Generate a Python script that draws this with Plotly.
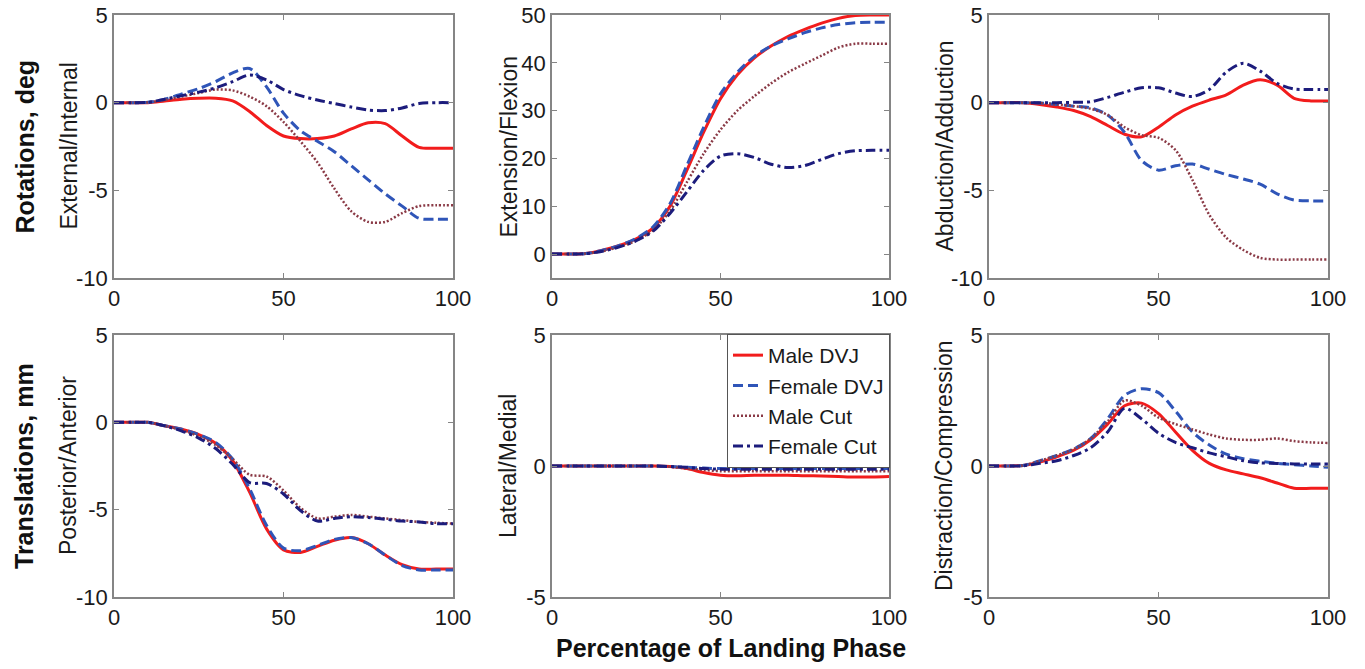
import plotly.graph_objects as go

x = [0, 5, 10, 15, 20, 25, 30, 35, 40, 45, 50, 55, 60, 65, 70, 75, 80, 85, 90, 95, 100]

series_names = ["Male DVJ", "Female DVJ", "Male Cut", "Female Cut"]

# Panel 1: External/Internal rotation (deg)
ext_int_male_dvj = [0, 0, 0, 0.1, 0.2, 0.25, 0.25, 0.1, -0.5, -1.3, -1.9, -2.05, -2.05, -1.9, -1.5, -1.15, -1.2, -1.9, -2.55, -2.6, -2.6]
ext_int_female_dvj = [0, 0, 0.02, 0.2, 0.5, 0.8, 1.2, 1.7, 1.95, 0.9, -0.6, -1.6, -2.2, -2.8, -3.6, -4.4, -5.2, -5.9, -6.6, -6.65, -6.65]
ext_int_male_cut = [0, 0, 0.02, 0.15, 0.35, 0.55, 0.75, 0.7, 0.35, -0.2, -1.1, -2.2, -3.4, -4.9, -6.2, -6.8, -6.8, -6.3, -5.9, -5.85, -5.85]
ext_int_female_cut = [0, 0, 0.02, 0.2, 0.4, 0.6, 0.85, 1.2, 1.58, 1.3, 0.75, 0.4, 0.15, -0.05, -0.25, -0.42, -0.45, -0.3, -0.05, 0, 0]

# Panel 2: Extension/Flexion (deg)
ext_flex_male_dvj = [0, 0, 0.1, 0.8, 1.8, 3.2, 5.5, 10, 17.5, 25.5, 32.5, 37.5, 41, 43.5, 45.5, 47, 48.3, 49.3, 49.9, 50, 50]
ext_flex_female_dvj = [0, 0, 0.1, 0.8, 1.8, 3.3, 5.7, 10.5, 18.5, 26.5, 33.5, 38, 41.3, 43.5, 45, 46.3, 47.3, 48, 48.4, 48.5, 48.5]
ext_flex_male_cut = [0, 0, 0.1, 0.6, 1.5, 2.8, 5, 9, 15, 21, 26, 30, 33, 35.7, 38, 39.8, 41.5, 43.2, 44, 44, 44]
ext_flex_female_cut = [0, 0, 0.1, 0.6, 1.5, 2.8, 4.8, 8.5, 13, 17.5, 20.5, 21, 20.2, 18.8, 18.1, 18.5, 19.8, 21, 21.6, 21.7, 21.7]

# Panel 3: Abduction/Adduction (deg)
abd_add_male_dvj = [0, 0, 0, -0.1, -0.25, -0.45, -0.8, -1.3, -1.8, -1.95, -1.4, -0.7, -0.2, 0.15, 0.45, 1.0, 1.3, 1.0, 0.25, 0.1, 0.1]
abd_add_female_dvj = [0, 0, 0, -0.02, -0.1, -0.2, -0.3, -0.7, -1.7, -3.3, -3.85, -3.6, -3.5, -3.8, -4.1, -4.35, -4.65, -5.2, -5.55, -5.6, -5.6]
abd_add_male_cut = [0, 0, 0, -0.02, -0.1, -0.2, -0.35, -0.7, -1.4, -1.85, -2.0, -2.7, -4.4, -6.4, -7.7, -8.4, -8.85, -8.95, -8.95, -8.95, -8.95]
abd_add_female_cut = [0, 0, 0, 0, 0, 0.02, 0.05, 0.3, 0.6, 0.85, 0.85, 0.55, 0.35, 0.75, 1.75, 2.25, 1.8, 1.1, 0.78, 0.75, 0.75]

# Panel 4: Posterior/Anterior translation (mm)
post_ant_male_dvj = [0, 0, 0, -0.2, -0.4, -0.7, -1.2, -2.2, -4.0, -6.1, -7.3, -7.45, -7.1, -6.75, -6.6, -6.95, -7.6, -8.15, -8.4, -8.4, -8.4]
post_ant_female_dvj = [0, 0, 0, -0.2, -0.4, -0.7, -1.15, -2.1, -3.8, -5.9, -7.2, -7.35, -7.05, -6.7, -6.6, -6.95, -7.6, -8.2, -8.45, -8.45, -8.45]
post_ant_male_cut = [0, 0, 0, -0.2, -0.45, -0.8, -1.3, -2.1, -3.0, -3.1, -3.9, -4.9, -5.5, -5.4, -5.3, -5.4, -5.5, -5.6, -5.7, -5.75, -5.8]
post_ant_female_cut = [0, 0, 0, -0.2, -0.5, -0.9, -1.5, -2.4, -3.45, -3.5, -4.1, -5.05, -5.65, -5.5, -5.4, -5.45, -5.55, -5.65, -5.7, -5.8, -5.8]

# Panel 5: Lateral/Medial translation (mm)
lat_med_male_dvj = [0, 0, 0, 0, 0, 0, 0, -0.02, -0.1, -0.25, -0.35, -0.37, -0.35, -0.35, -0.35, -0.37, -0.38, -0.4, -0.42, -0.42, -0.4]
lat_med_female_dvj = [0, 0, 0, 0, 0, 0, 0, -0.02, -0.05, -0.08, -0.1, -0.1, -0.1, -0.1, -0.1, -0.1, -0.1, -0.1, -0.1, -0.1, -0.1]
lat_med_male_cut = [0, 0, 0, 0, 0, 0, 0, -0.03, -0.1, -0.15, -0.2, -0.2, -0.2, -0.2, -0.2, -0.2, -0.2, -0.2, -0.2, -0.2, -0.2]
lat_med_female_cut = [0, 0, 0, 0, 0, 0, 0, -0.02, -0.05, -0.1, -0.12, -0.12, -0.12, -0.12, -0.12, -0.12, -0.12, -0.12, -0.12, -0.12, -0.12]

# Panel 6: Distraction/Compression translation (mm)
dis_com_male_dvj = [0, 0, 0.02, 0.15, 0.35, 0.6, 1.0, 1.6, 2.3, 2.4, 2.0, 1.3, 0.6, 0.1, -0.15, -0.3, -0.45, -0.65, -0.85, -0.85, -0.85]
dis_com_female_dvj = [0, 0, 0.02, 0.2, 0.4, 0.65, 1.05, 1.8, 2.7, 2.95, 2.8, 2.1, 1.3, 0.8, 0.45, 0.28, 0.18, 0.1, 0.05, 0, -0.05]
dis_com_male_cut = [0, 0, 0.02, 0.2, 0.4, 0.65, 1.05, 1.7, 2.5, 2.3, 1.85, 1.6, 1.4, 1.2, 1.05, 1.0, 1.0, 1.05, 0.95, 0.9, 0.88]
dis_com_female_cut = [0, 0, 0.01, 0.1, 0.2, 0.4, 0.7, 1.3, 2.2, 1.8, 1.25, 0.9, 0.7, 0.5, 0.35, 0.2, 0.12, 0.1, 0.08, 0.08, 0.08]

panel_titles = ["External/Internal", "Extension/Flexion", "Abduction/Adduction",
                "Posterior/Anterior", "Lateral/Medial", "Distraction/Compression"]
panel_data = [
    [ext_int_male_dvj, ext_int_female_dvj, ext_int_male_cut, ext_int_female_cut],
    [ext_flex_male_dvj, ext_flex_female_dvj, ext_flex_male_cut, ext_flex_female_cut],
    [abd_add_male_dvj, abd_add_female_dvj, abd_add_male_cut, abd_add_female_cut],
    [post_ant_male_dvj, post_ant_female_dvj, post_ant_male_cut, post_ant_female_cut],
    [lat_med_male_dvj, lat_med_female_dvj, lat_med_male_cut, lat_med_female_cut],
    [dis_com_male_dvj, dis_com_female_dvj, dis_com_male_cut, dis_com_female_cut],
]
y_ranges = [[-10, 5], [-5, 50], [-10, 5], [-10, 5], [-5, 5], [-5, 5]]
y_ticks = [[-10, -5, 0, 5], [0, 10, 20, 30, 40, 50], [-10, -5, 0, 5],
           [-10, -5, 0, 5], [-5, 0, 5], [-5, 0, 5]]
x_ticks = [0, 50, 100]

row_labels = ["Rotations, deg", "Translations, mm"]
x_label = "Percentage of Landing Phase"

W, H = 1365, 669
styles = [
    dict(color="#F21C1C", width=3, dash="solid"),
    dict(color="#2F55B8", width=3, dash="10px,5px"),
    dict(color="#8A3A46", width=2.5, dash="2px,2px"),
    dict(color="#1C1C7C", width=3, dash="10px,4px,3px,4px"),
]

col_px = [(114, 453), (552, 889), (989, 1328)]
row_px = [(15, 278), (335, 597)]
ytitle_px = [68, 508, 944]

fig = go.Figure()
layout = dict(width=W, height=H, margin=dict(l=0, r=0, t=0, b=0, autoexpand=False),
              plot_bgcolor="white", paper_bgcolor="white",
              font=dict(family="Liberation Sans, Arial, sans-serif", size=22, color="#1a1a1a"))
annotations = []

def tick_text(v):
    return ("-" + str(abs(v))) if v < 0 else str(v)

for i in range(6):
    r, c = divmod(i, 3)
    n = i + 1
    xa = "xaxis" if n == 1 else f"xaxis{n}"
    ya = "yaxis" if n == 1 else f"yaxis{n}"
    xref = "x" if n == 1 else f"x{n}"
    yref = "y" if n == 1 else f"y{n}"
    x0, x1 = col_px[c]
    t0, t1 = row_px[r]
    common = dict(showgrid=False, zeroline=False, showline=True, linecolor="#858585",
                  linewidth=1.5, mirror="ticks", ticks="inside", ticklen=5,
                  tickcolor="#858585", automargin=False, ticklabeloverflow="allow",
                  tickfont=dict(size=22, color="#1a1a1a"))
    layout[xa] = dict(common, domain=[x0 / W, x1 / W], range=[0, 100], anchor=yref,
                      tickvals=x_ticks, ticktext=[str(v) for v in x_ticks])
    layout[ya] = dict(common, domain=[1 - t1 / H, 1 - t0 / H], range=y_ranges[i], anchor=xref,
                      tickvals=y_ticks[i], ticktext=[tick_text(v) for v in y_ticks[i]])
    for k in range(4):
        fig.add_trace(go.Scatter(
            x=x, y=panel_data[i][k], mode="lines", name=series_names[k],
            line=dict(styles[k], shape="spline", smoothing=0.8),
            xaxis=xref, yaxis=yref, showlegend=(i == 4)))
    annotations.append(dict(text=panel_titles[i], xref="paper", yref="paper",
                            x=ytitle_px[c] / W, y=1 - (t0 + t1) / 2 / H, textangle=-90,
                            showarrow=False, font=dict(size=23, color="#1a1a1a"),
                            xanchor="center", yanchor="middle"))

for r in range(2):
    t0, t1 = row_px[r]
    annotations.append(dict(text="<b>" + row_labels[r] + "</b>", xref="paper", yref="paper",
                            x=24 / W, y=1 - (t0 + t1) / 2 / H, textangle=-90,
                            showarrow=False, font=dict(size=25, color="#111111"),
                            xanchor="center", yanchor="middle"))

annotations.append(dict(text="<b>" + x_label + "</b>", xref="paper", yref="paper",
                        x=731 / W, y=1 - 648 / H, showarrow=False,
                        font=dict(size=25, color="#111111"),
                        xanchor="center", yanchor="middle"))

layout["annotations"] = annotations
layout["legend"] = dict(x=890 / W, y=1 - 334 / H, xanchor="right", yanchor="top",
                        bgcolor="white", bordercolor="#555555", borderwidth=1,
                        font=dict(size=21, color="#1a1a1a"), tracegroupgap=0,
                        itemwidth=30)
fig.update_layout(**layout)
fig.write_html("out.html", config={"displayModeBar": False},
               post_script="document.body.style.margin='0';")
